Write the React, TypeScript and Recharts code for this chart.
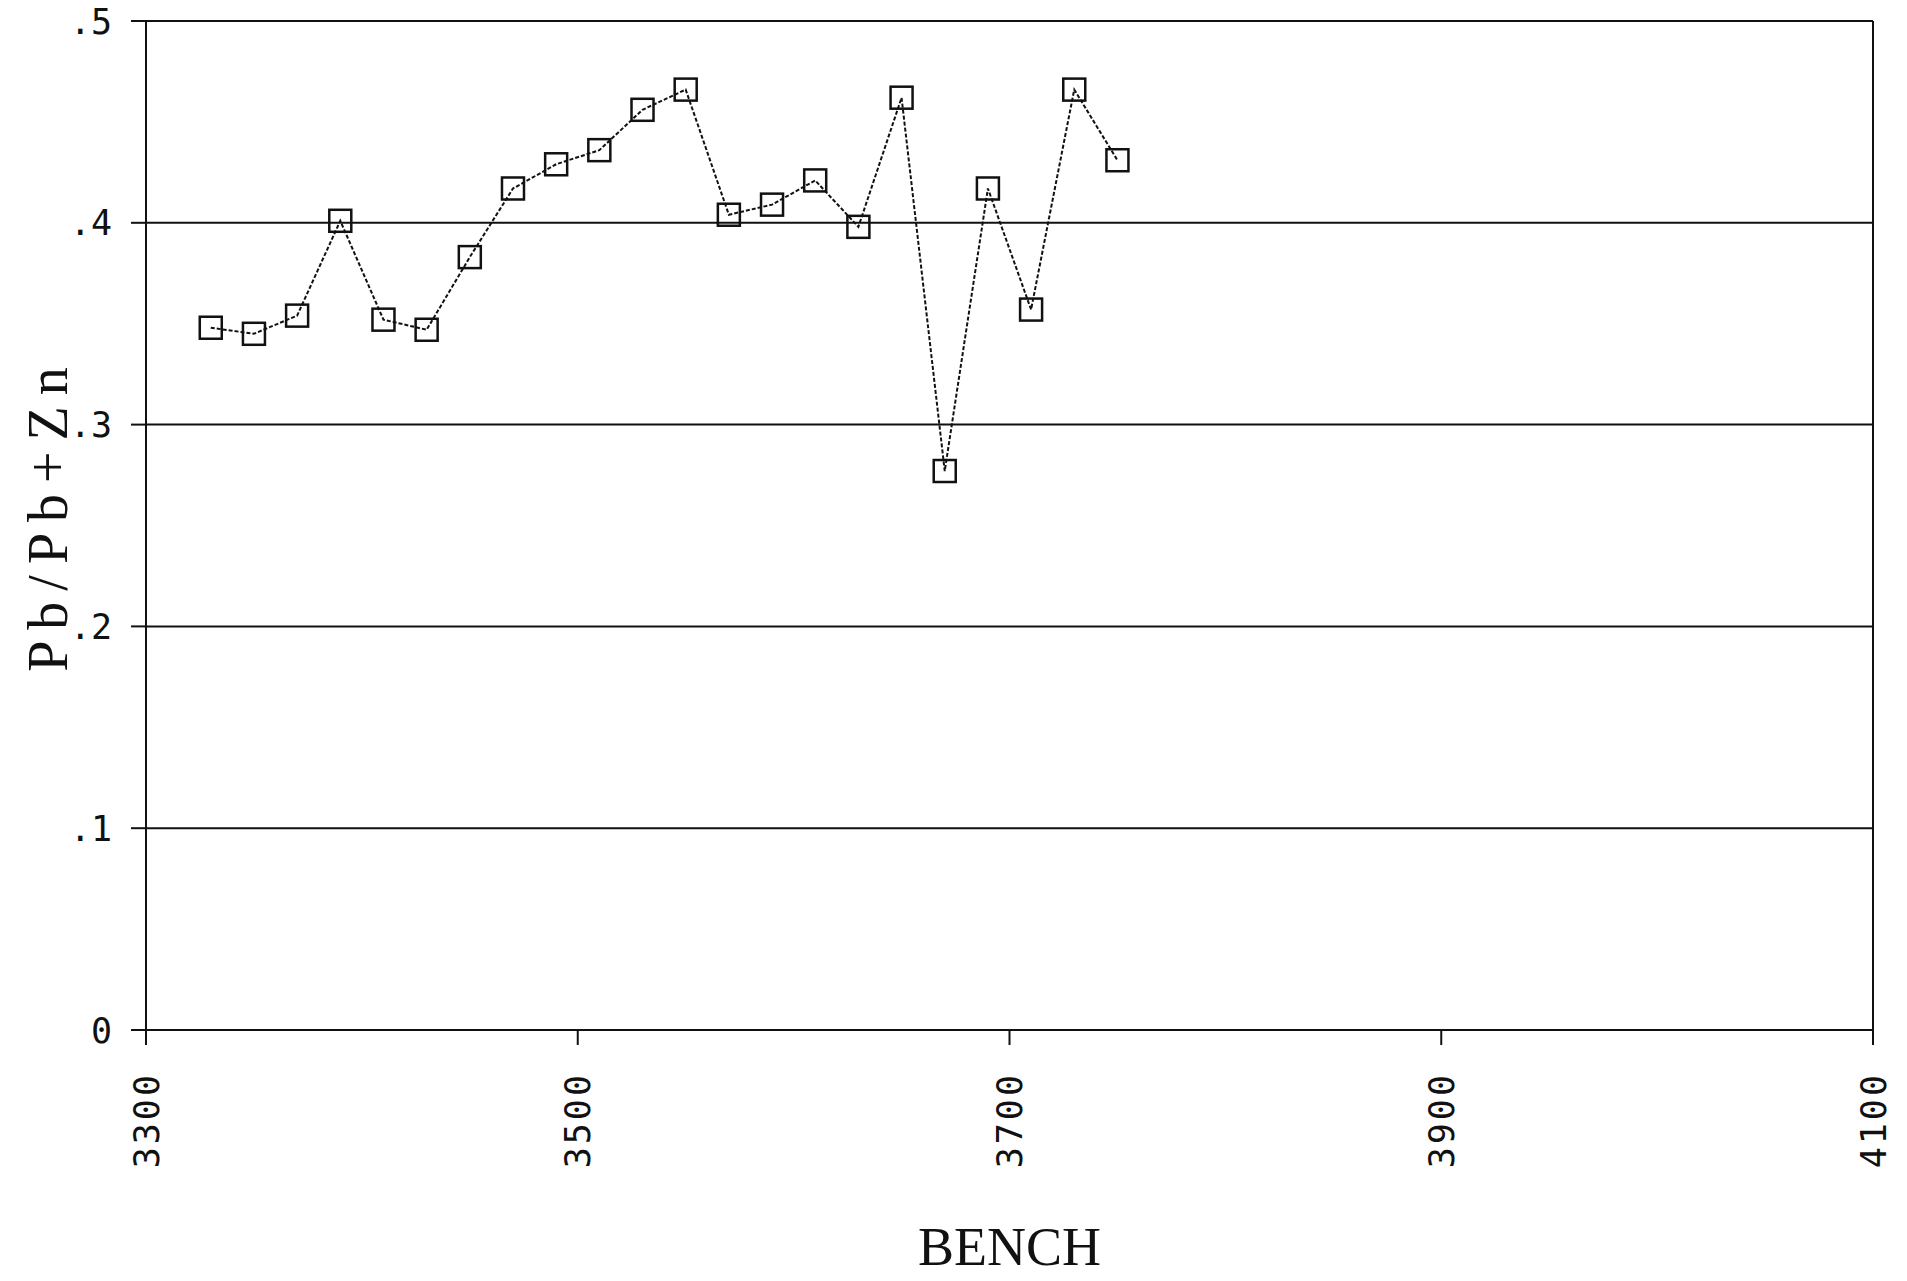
import React from "react";
import { LineChart, Line, XAxis, YAxis, CartesianGrid, ReferenceLine } from "recharts";

const benches = [
  3330, 3350, 3370, 3390, 3410, 3430, 3450, 3470, 3490, 3510, 3530,
  3550, 3570, 3590, 3610, 3630, 3650, 3670, 3690, 3710, 3730, 3750,
];
const ratio = [
  0.348, 0.345, 0.354, 0.401, 0.352, 0.347, 0.383, 0.417, 0.429, 0.436, 0.456,
  0.466, 0.404, 0.409, 0.421, 0.398, 0.462, 0.277, 0.417, 0.357, 0.466, 0.431,
];
const xTicks = [3300, 3500, 3700, 3900, 4100];
const yTicks = [0, 0.1, 0.2, 0.3, 0.4, 0.5];
const yTickLabels = ["0", ".1", ".2", ".3", ".4", ".5"];

const data = benches.map((b, i) => ({ bench: b, ratio: ratio[i] }));

const INK = "#111";
const tickFont = "'DejaVu Sans Mono', 'Liberation Mono', monospace";
const labelFont = "'Liberation Serif', 'DejaVu Serif', serif";

const Square = (props: any) => {
  const { cx, cy, index } = props;
  if (cx == null || cy == null) return null;
  return (
    <rect key={`sq-${index}`} x={cx - 11} y={cy - 11} width={22} height={22}
      fill="none" stroke={INK} strokeWidth={2.5} />
  );
};

const XTick = (props: any) => {
  const { x, y, payload } = props;
  return (
    <text x={x} y={y} dy="0.36em" transform={`rotate(-90, ${x}, ${y})`} textAnchor="end"
      fontFamily={tickFont} fontSize={35} letterSpacing={3} fill={INK}>
      {payload.value}
    </text>
  );
};

const YTick = (props: any) => {
  const { x, y, payload } = props;
  const i = yTicks.indexOf(payload.value);
  return (
    <text x={x} y={y} dy="0.36em" textAnchor="end" fontFamily={tickFont} fontSize={35} fill={INK}>
      {yTickLabels[i]}
    </text>
  );
};

export default function App() {
  return (
    <div style={{ position: "absolute", left: 0, top: 0, width: 1907, height: 1281, background: "#fff" }}>
      <LineChart width={1907} height={1281} data={data} margin={{ top: 21, right: 34, bottom: 0, left: 0 }}>
        <CartesianGrid horizontal vertical={false} stroke={INK} strokeWidth={2} strokeOpacity={1} />
        <ReferenceLine x={4100} stroke={INK} strokeWidth={2} />
        <XAxis
          dataKey="bench" type="number" domain={[3300, 4100]} ticks={xTicks}
          height={251} tickSize={15} tickMargin={27}
          axisLine={{ stroke: INK, strokeWidth: 2 }} tickLine={{ stroke: INK, strokeWidth: 2 }}
          tick={<XTick />} interval={0}
          label={({ viewBox }: any) => (
            <text x={viewBox.x + viewBox.width / 2} y={viewBox.y + 235} textAnchor="middle"
              fontFamily={labelFont} fontSize={54} fill={INK}>
              BENCH
            </text>
          )}
        />
        <YAxis
          type="number" domain={[0, 0.5]} ticks={yTicks} width={146}
          tickSize={15} tickMargin={19}
          axisLine={{ stroke: INK, strokeWidth: 2 }} tickLine={{ stroke: INK, strokeWidth: 2 }}
          tick={<YTick />} interval={0}
          label={() => (
            <text x={67} y={514} transform="rotate(-90, 67, 514)" textAnchor="middle"
              fontFamily={labelFont} fontSize={56} letterSpacing={11} fill={INK}>
              Pb/Pb+Zn
            </text>
          )}
        />
        <Line
          type="linear" dataKey="ratio" stroke={INK} strokeWidth={2} strokeDasharray="4 2"
          dot={<Square />} activeDot={false} isAnimationActive={false}
        />
      </LineChart>
    </div>
  );
}
